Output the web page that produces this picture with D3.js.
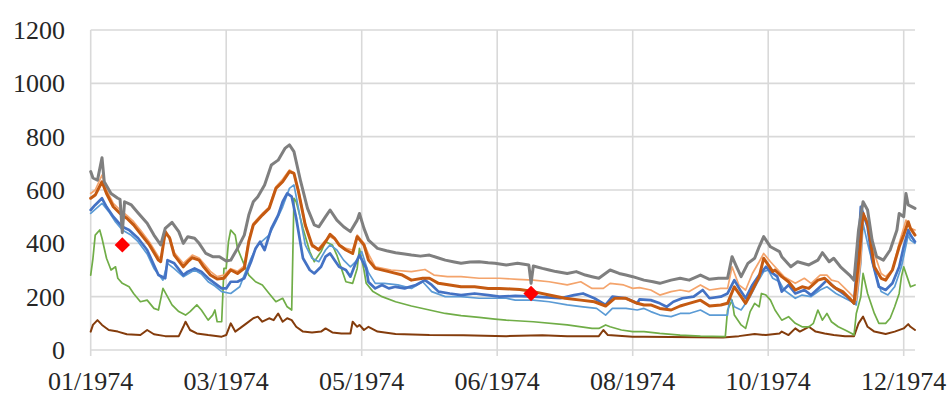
<!DOCTYPE html>
<html><head><meta charset="utf-8">
<script src="https://cdn.jsdelivr.net/npm/d3@7"></script>
<style>html,body{margin:0;padding:0;background:#fff;}svg{display:block;}</style>
</head><body><div id="chart"></div>
<script>
// Day-of-year (0 = 01/01/1974) and value pairs for each series
const grayS = [[0,669],[1,645],[3,637],[5,721],[6,631],[9,587],[12,569],[13,565],[14,440],[15,556],[18,544],[21,514],[25,475],[28,431],[31,394],[33,456],[36,479],[39,444],[41,400],[43,425],[46,419],[48,400],[51,362],[54,350],[57,350],[60,334],[62,337],[65,381],[68,431],[70,506],[72,556],[74,575],[77,619],[80,694],[83,712],[86,756],[88,769],[90,744],[93,631],[96,531],[99,469],[101,462],[104,500],[106,525],[109,487],[112,462],[115,444],[118,487],[119,512],[121,456],[123,412],[127,381],[131,372],[135,365],[139,360],[142,356],[146,352],[150,356],[154,345],[157,337],[161,330],[164,325],[168,330],[172,331],[176,327],[179,325],[184,319],[189,325],[194,319],[195,250],[196,315],[200,306],[203,300],[206,294],[211,287],[215,294],[219,281],[222,275],[225,269],[230,300],[234,287],[237,281],[240,275],[245,262],[249,256],[252,250],[257,262],[261,269],[265,262],[270,281],[274,265],[278,269],[282,269],[284,350],[286,312],[288,275],[291,325],[294,344],[296,387],[298,425],[301,387],[305,369],[306,350],[310,312],[313,331],[318,319],[322,337],[324,365],[327,331],[329,344],[332,312],[336,281],[338,262],[340,450],[342,556],[344,525],[346,412],[348,350],[351,337],[354,375],[357,450],[358,512],[360,500],[361,587],[362,544],[365,531]];
const brownS = [[0,569],[2,581],[5,631],[7,587],[10,537],[13,512],[16,494],[19,469],[22,437],[26,394],[30,337],[31,331],[33,444],[35,419],[37,356],[41,312],[43,331],[45,346],[48,337],[50,312],[53,281],[56,266],[59,269],[62,300],[65,287],[68,306],[70,406],[72,469],[76,506],[79,531],[82,606],[85,631],[88,669],[90,662],[92,594],[95,469],[98,394],[101,375],[104,406],[106,434],[108,419],[110,394],[113,375],[116,362],[118,425],[121,394],[123,337],[126,306],[132,294],[138,281],[142,262],[147,269],[150,269],[154,250],[159,244],[164,237],[170,237],[176,231],[181,231],[186,229],[190,227],[196,219],[203,206],[210,194],[217,187],[223,181],[228,165],[232,194],[237,194],[242,175],[245,169],[248,169],[252,156],[257,150],[261,165],[265,175],[270,187],[274,165],[279,169],[282,175],[285,237],[288,200],[290,175],[293,225],[296,275],[298,344],[300,319],[302,294],[303,300],[306,275],[309,256],[312,225],[315,237],[318,231],[322,262],[325,269],[328,244],[330,231],[333,219],[336,194],[338,175],[340,325],[342,512],[344,475],[345,425],[347,312],[350,269],[352,262],[355,300],[358,387],[360,431],[362,481],[363,456],[365,431]];
const orangeS = [[0,587],[2,600],[5,656],[7,600],[10,550],[13,525],[16,505],[19,481],[22,450],[26,405],[30,350],[31,345],[33,431],[35,425],[37,365],[41,325],[45,356],[48,345],[50,325],[53,295],[56,275],[59,281],[62,305],[65,295],[68,315],[70,415],[72,475],[76,512],[79,535],[82,612],[85,640],[88,675],[90,665],[92,600],[95,475],[98,387],[101,381],[104,412],[106,425],[108,415],[110,395],[113,381],[116,375],[118,431],[121,400],[123,360],[126,312],[133,300],[142,294],[148,302],[152,281],[158,275],[164,275],[172,269],[179,269],[181,269],[189,265],[196,262],[203,256],[211,244],[217,256],[222,231],[227,231],[230,250],[236,244],[240,231],[243,234],[248,225],[252,206],[257,219],[261,225],[265,219],[270,244],[274,225],[279,231],[282,231],[284,312],[287,244],[290,225],[293,287],[296,331],[298,362],[301,331],[303,312],[307,275],[312,250],[316,269],[319,250],[323,281],[326,281],[328,262],[331,256],[334,231],[337,206],[339,187],[341,337],[342,519],[344,462],[347,362],[350,287],[352,275],[355,300],[358,400],[361,487],[363,456],[365,450]];
const blueS = [[0,525],[2,544],[5,569],[7,537],[10,500],[14,462],[17,450],[21,419],[25,375],[28,319],[30,281],[33,269],[34,337],[37,325],[41,281],[43,294],[46,306],[49,294],[52,269],[55,250],[58,231],[60,231],[62,256],[65,256],[68,269],[71,331],[73,381],[75,406],[77,375],[80,456],[83,506],[85,556],[87,587],[89,575],[91,494],[94,344],[97,300],[99,287],[102,312],[104,350],[106,362],[108,337],[110,312],[113,300],[115,275],[117,319],[119,356],[122,306],[123,255],[126,231],[129,244],[132,231],[135,237],[139,231],[144,244],[148,262],[151,244],[154,219],[159,212],[164,206],[170,212],[176,206],[181,200],[188,203],[196,200],[202,197],[208,194],[214,206],[218,212],[223,194],[228,169],[231,200],[237,194],[242,175],[243,190],[248,187],[252,175],[255,162],[258,181],[262,194],[267,200],[271,225],[274,194],[279,200],[282,212],[285,262],[288,219],[290,194],[293,244],[296,281],[299,312],[301,294],[304,275],[306,219],[309,244],[312,212],[316,225],[319,206],[323,237],[326,262],[329,237],[332,219],[335,200],[338,175],[340,387],[341,537],[344,462],[346,337],[349,237],[352,225],[355,250],[358,312],[360,387],[362,450],[363,431],[365,406]];
const lightBlueS = [[0,512],[5,550],[8,519],[11,480],[14,450],[18,430],[21,406],[25,360],[28,306],[32,262],[34,325],[37,305],[41,275],[46,300],[49,285],[52,256],[55,240],[58,219],[62,212],[66,237],[68,281],[71,344],[74,394],[79,431],[82,481],[85,537],[88,606],[90,619],[92,531],[95,394],[98,344],[101,331],[104,375],[106,394],[109,375],[112,337],[115,312],[118,337],[120,369],[123,290],[126,250],[130,250],[136,244],[142,231],[147,256],[151,219],[157,200],[164,200],[172,194],[179,194],[184,194],[188,187],[196,187],[203,181],[211,169],[218,162],[224,156],[228,131],[231,156],[237,156],[242,150],[245,156],[248,144],[252,131],[257,125],[261,137],[265,137],[270,150],[274,131],[278,131],[282,131],[283,200],[285,162],[288,150],[292,200],[295,250],[298,294],[300,300],[302,269],[305,256],[307,225],[312,194],[315,206],[319,200],[323,225],[326,237],[330,212],[334,194],[337,181],[339,169],[341,325],[342,475],[344,400],[347,300],[350,219],[353,206],[356,237],[359,312],[362,431],[363,412],[365,400]];
const greenS = [[0,281],[1,344],[2,431],[4,450],[5,419],[7,344],[9,300],[11,312],[12,269],[14,250],[17,237],[19,212],[22,181],[25,187],[28,156],[30,150],[32,231],[34,200],[36,169],[39,144],[42,131],[44,144],[47,169],[49,150],[52,112],[54,131],[55,150],[56,106],[58,106],[59,306],[60,306],[61,406],[62,450],[64,431],[65,381],[68,319],[70,281],[73,256],[76,244],[79,212],[82,181],[85,194],[87,162],[89,150],[90,569],[91,556],[94,456],[97,369],[99,331],[102,369],[104,406],[107,394],[109,356],[111,306],[113,256],[116,250],[118,306],[119,381],[121,300],[122,250],[125,219],[129,200],[135,181],[142,165],[150,150],[157,137],[164,129],[172,122],[179,116],[184,112],[196,106],[211,94],[222,81],[225,81],[228,94],[230,87],[235,75],[240,69],[245,69],[252,62],[261,56],[270,52],[281,50],[282,150],[284,187],[285,131],[288,94],[290,81],[292,144],[294,175],[296,162],[297,212],[299,206],[301,187],[303,150],[306,112],[309,125],[312,100],[315,87],[318,87],[320,100],[322,150],[324,112],[326,137],[328,106],[331,87],[334,75],[337,62],[338,56],[339,137],[341,200],[342,287],[344,212],[347,137],[349,100],[352,100],[354,119],[356,162],[358,212],[359,275],[360,312],[362,262],[363,237],[365,244]];
const darkBrownS = [[0,69],[1,94],[3,112],[5,94],[8,75],[12,69],[16,59],[22,56],[25,75],[28,59],[33,52],[39,52],[41,87],[42,106],[44,75],[47,62],[52,56],[58,50],[60,56],[62,100],[64,69],[66,81],[69,100],[72,119],[74,125],[76,106],[79,119],[81,112],[83,137],[85,106],[87,119],[89,112],[91,87],[94,69],[98,66],[102,69],[104,81],[107,66],[111,62],[115,62],[116,106],[118,87],[119,94],[121,75],[123,87],[127,69],[135,60],[150,56],[165,55],[184,52],[200,55],[211,52],[225,52],[227,75],[229,56],[240,50],[245,50],[280,47],[287,52],[294,60],[299,56],[305,62],[306,69],[309,56],[312,81],[314,69],[318,87],[321,69],[325,62],[329,56],[334,52],[338,52],[340,100],[342,125],[344,87],[347,69],[352,60],[356,69],[360,81],[362,97],[363,87],[365,75]];
const markers = [[14,394],[195,212]];

const xTickDays = [0,60,120,180,240,300,360];
const xTickLabels = ["01/1974","03/1974","05/1974","06/1974","08/1974","10/1974","12/1974"];
const yTicks = [0,200,400,600,800,1000,1200];

const series = [
  {data: darkBrownS, color:"#843c0c", w:2},
  {data: greenS, color:"#70ad47", w:1.7},
  {data: lightBlueS, color:"#5b9bd5", w:1.7},
  {data: orangeS, color:"#f4a46c", w:1.7},
  {data: blueS, color:"#4472c4", w:2.7},
  {data: brownS, color:"#c55a11", w:3},
  {data: grayS, color:"#7f7f7f", w:3}
];

const W = 951, H = 404;
const m = {left:90.7, right:36, top:30, bottom:54};
const FONT = "'Liberation Serif', Tinos, 'Times New Roman', Times, 'DejaVu Serif', serif";
const svg = d3.select("#chart").append("svg").attr("width",W).attr("height",H);
const x = d3.scaleLinear().domain([0,365]).range([m.left, W-m.right]);
const y = d3.scaleLinear().domain([0,1200]).range([H-m.bottom, m.top]);

svg.append("g").selectAll("line").data(yTicks).join("line")
  .attr("x1", x(0)).attr("x2", x(365)).attr("y1", d=>y(d)).attr("y2", d=>y(d))
  .attr("stroke","#d9d9d9").attr("stroke-width",1.6);
svg.append("g").selectAll("line").data(xTickDays).join("line")
  .attr("x1", d=>x(d)).attr("x2", d=>x(d)).attr("y1", y(1200)).attr("y2", y(0)+6)
  .attr("stroke","#d9d9d9").attr("stroke-width",1.6);

svg.append("g").selectAll("text").data(yTicks).join("text")
  .attr("x", 65).attr("y", d=>y(d)).attr("dy","0.35em").attr("text-anchor","end")
  .style("font-family",FONT).style("font-size","26px").attr("fill","#262626")
  .text(d=>d);
svg.append("g").selectAll("text").data(xTickDays).join("text")
  .attr("x", d=>x(d)).attr("y", 390).attr("text-anchor","middle")
  .style("font-family",FONT).style("font-size","26px").attr("fill","#262626")
  .text((d,i)=>xTickLabels[i]);

const line = d3.line().x(d=>x(d[0])).y(d=>y(d[1]));
svg.append("g").selectAll("path").data(series).join("path")
  .attr("d", d=>line(d.data)).attr("fill","none")
  .attr("stroke", d=>d.color).attr("stroke-width", d=>d.w)
  .attr("stroke-linejoin","round").attr("stroke-linecap","round");

svg.append("g").selectAll("path").data(markers).join("path")
  .attr("d", d3.symbol().type(d3.symbolDiamond2).size(150))
  .attr("transform", d=>`translate(${x(d[0])},${y(d[1])})`)
  .attr("fill","#ff0000");
</script></body></html>
